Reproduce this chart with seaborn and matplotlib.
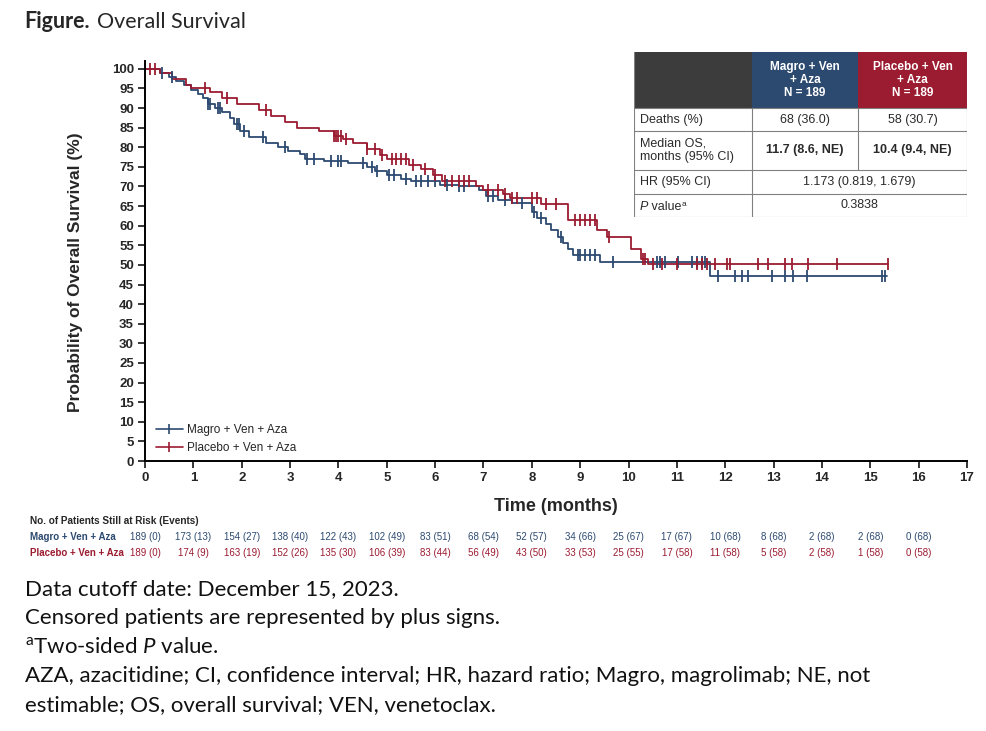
"""
Overall survival KM plot (Magro + Ven + Aza vs Placebo + Ven + Aza)
"""

import numpy as np
import pandas as pd
import matplotlib
matplotlib.use("Agg")
import matplotlib.pyplot as plt
import matplotlib.transforms as mtransforms
from matplotlib.lines import Line2D
from matplotlib.patches import Rectangle
import seaborn as sns

BLUE = "#2c4a70"
RED = "#9b1b30"
HEAD_GRAY = "#3c3c3c"
TXT = "#2a2a2a"

# step points (time in months, survival %)
magro_t = [0, 0.3, 0.5, 0.65, 0.8, 0.95, 1.1, 1.2, 1.3, 1.45, 1.6, 1.75, 1.85,
           1.97, 2.15, 2.5, 2.75, 2.95, 3.2, 3.3, 3.7, 4.2, 4.6, 4.75, 5.0,
           5.3, 5.5, 6.1, 6.5, 6.9, 7.05, 7.3, 7.6, 8.0, 8.1, 8.3, 8.4, 8.55,
           8.65, 8.75, 8.85, 9.4, 11.68, 15.35]
magro_s = [100, 99.0, 98.0, 97.0, 96.0, 94.7, 93.5, 92.5, 91.0, 90.0, 89.0,
           87.5, 86.0, 84.2, 82.5, 81.0, 80.0, 79.0, 78.2, 77.0, 76.5, 76.0,
           75.0, 74.0, 73.0, 72.0, 71.5, 70.5, 70.0, 69.0, 67.5, 66.5, 65.8,
           63.5, 62.0, 60.5, 59.0, 57.0, 55.5, 54.0, 52.5, 50.8, 47.2, 47.2]
magro_cens = [0.35, 0.55, 1.3, 1.35, 1.5, 1.55, 1.9, 1.95, 2.05, 2.45, 2.9,
              3.35, 3.5, 3.85, 4.0, 4.05, 4.5, 4.7, 4.8, 5.05, 5.15, 5.4, 5.6,
              5.7, 5.85, 6.0, 6.25, 6.5, 6.6, 7.1, 7.2, 7.45, 7.8, 8.05, 8.2,
              8.6, 8.95, 9.0, 9.1, 9.2, 9.3, 9.68, 10.59, 10.65, 10.75, 11.02,
              11.31, 11.42, 11.52, 11.58, 11.85, 12.2, 12.35, 12.47, 12.97,
              13.24, 13.4, 13.69, 15.24, 15.3]

placebo_t = [0, 0.3, 0.55, 0.85, 0.95, 1.35, 1.6, 1.9, 2.35, 2.6, 2.9, 3.15,
             3.6, 3.9, 4.1, 4.3, 4.6, 4.85, 5.0, 5.45, 5.7, 5.95, 6.15, 6.85,
             7.0, 7.4, 7.55, 8.2, 8.75, 9.35, 9.55, 10.05, 10.25, 10.4, 15.37]
placebo_s = [100, 99.0, 97.5, 96.0, 95.0, 94.0, 92.5, 91.0, 89.5, 88.0, 86.5,
             85.0, 84.2, 83.0, 82.0, 81.0, 79.5, 78.0, 77.0, 75.5, 74.5, 73.0,
             71.5, 70.0, 69.0, 68.0, 67.0, 65.5, 61.5, 59.0, 57.0, 54.0, 51.5,
             50.2, 50.2]
placebo_cens = [0.1, 0.2, 1.25, 1.7, 2.5, 3.9, 3.95, 4.0, 4.05, 4.15, 4.6,
                4.75, 4.9, 5.1, 5.2, 5.3, 5.4, 5.55, 5.8, 6.0, 6.2, 6.35, 6.5,
                6.6, 6.7, 7.1, 7.3, 7.45, 7.6, 7.7, 8.0, 8.1, 8.3, 8.5, 8.9,
                9.0, 9.1, 9.2, 9.3, 9.6, 10.3, 10.35, 10.5, 10.7, 11.0, 11.42,
                11.52, 11.62, 11.79, 12.04, 12.1, 12.68, 12.88, 13.24, 13.38,
                13.71, 14.31, 15.37]

arm_labels = ["Magro + Ven + Aza", "Placebo + Ven + Aza"]
risk_months = list(range(17))
magro_risk = ["189 (0)", "173 (13)", "154 (27)", "138 (40)", "122 (43)",
              "102 (49)", "83 (51)", "68 (54)", "52 (57)", "34 (66)",
              "25 (67)", "17 (67)", "10 (68)", "8 (68)", "2 (68)", "2 (68)",
              "0 (68)"]
placebo_risk = ["189 (0)", "174 (9)", "163 (19)", "152 (26)", "135 (30)",
                "106 (39)", "83 (44)", "56 (49)", "43 (50)", "33 (53)",
                "25 (55)", "17 (58)", "11 (58)", "5 (58)", "2 (58)",
                "1 (58)", "0 (58)"]

table_rows = ["Deaths (%)", "Median OS,\nmonths (95% CI)", "HR (95% CI)"]
magro_col = ["68 (36.0)", "11.7 (8.6, NE)"]
placebo_col = ["58 (30.7)", "10.4 (9.4, NE)"]
hr_text = "1.173 (0.819, 1.679)"
p_text = "0.3838"

captions = [
    "Data cutoff date: December 15, 2023.",
    "Censored patients are represented by plus signs.",
    r"$^{\rm a}$Two-sided $\it{P}$ value.",
    "AZA, azacitidine; CI, confidence interval; HR, hazard ratio; "
    "Magro, magrolimab; NE, not",
    "estimable; OS, overall survival; VEN, venetoclax.",
]


def censor_y(times, surv, cens):
    idx = np.searchsorted(np.asarray(times), np.asarray(cens), side="right") - 1
    return np.asarray(surv)[idx]


def text_run(ax, x, y, pieces, **common):
    """Draw text pieces one after another on the same baseline (data coords)"""
    renderer = ax.figure.canvas.get_renderer()
    inv = ax.transData.inverted()
    for s, kw in pieces:
        opts = {**common, **kw}
        dy = opts.pop("dy", 0)
        t = ax.text(x, y + dy, s, **opts)
        bb = t.get_window_extent(renderer)
        x = inv.transform((bb.x1, bb.y0))[0]


sns.set_style("ticks")
plt.rcParams["font.family"] = ["Liberation Sans", "DejaVu Sans"]
plt.rcParams["mathtext.fontset"] = "custom"
plt.rcParams["mathtext.rm"] = "Lato"
plt.rcParams["mathtext.it"] = "Lato:italic"

W, H = 987, 731
fig = plt.figure(figsize=(W / 100, H / 100), dpi=100)
fig.patch.set_facecolor("white")

ax = fig.add_axes([145 / W, 1 - 461 / H, (967 - 145) / W, (461 - 61) / H])

curves = [(magro_t, magro_s, magro_cens, BLUE),
          (placebo_t, placebo_s, placebo_cens, RED)]
for t, s, cens, col in curves:
    df = pd.DataFrame({"time": t, "surv": s})
    sns.lineplot(data=df, x="time", y="surv", color=col, lw=1.3,
                 drawstyle="steps-post", estimator=None, sort=False,
                 legend=False, ax=ax)
    cdf = pd.DataFrame({"time": cens, "surv": censor_y(t, s, cens)})
    sns.scatterplot(data=cdf, x="time", y="surv", marker="|", s=70,
                    color=col, linewidth=1.3, legend=False, ax=ax, zorder=3)

ax.set_xlim(0, 17)
ax.set_ylim(0, 102)
ax.set_xticks(range(0, 18))
ax.set_yticks(range(0, 101, 5))
sns.despine(ax=ax)
for sp in ["left", "bottom"]:
    ax.spines[sp].set_linewidth(1.4)
    ax.spines[sp].set_color("black")
ax.tick_params(axis="both", length=5, width=1.3, labelsize=9.5, pad=3)
for lab in ax.get_xticklabels() + ax.get_yticklabels():
    lab.set_fontweight("bold")
ax.set_xlabel("Time (months)", fontsize=13, fontweight="bold", labelpad=10)
ax.set_ylabel("Probability of Overall Survival (%)", fontsize=12.5,
              fontweight="bold")
ax.yaxis.set_label_coords(-0.076, 0.4725)

handles = [Line2D([0], [0], color=BLUE, lw=1.2, marker="|", ms=7, mew=1.2),
           Line2D([0], [0], color=RED, lw=1.2, marker="|", ms=7, mew=1.2)]
ax.legend(handles, arm_labels, loc="lower left", bbox_to_anchor=(0.0, -0.01),
          frameon=False, fontsize=8.5, handlelength=2.3, handletextpad=0.4,
          labelspacing=0.55)

# number at risk
tr = mtransforms.blended_transform_factory(ax.transData, fig.transFigure)
fig.text(30 / W, 1 - 521 / H, "No. of Patients Still at Risk (Events)",
         fontsize=7.2, fontweight="bold", va="center")
for row_y, lab, vals, col in [(537, arm_labels[0], magro_risk, BLUE),
                              (553, arm_labels[1], placebo_risk, RED)]:
    fig.text(30 / W, 1 - row_y / H, lab, fontsize=7, fontweight="bold",
             color=col, va="center")
    for m, v in zip(risk_months, vals):
        ax.text(m, 1 - row_y / H, v, transform=tr, fontsize=7, color=col,
                ha="center", va="center", clip_on=False)

# summary table
tab = fig.add_axes([634 / W, 1 - 217 / H, 333 / W, 165 / H])
tab.set_xlim(0, 333)
tab.set_ylim(165, 0)
tab.axis("off")
rows = [0, 56, 79, 118, 142, 165]
for (x0, x1), fc in zip([(0, 118), (118, 224), (224, 333)],
                        [HEAD_GRAY, BLUE, RED]):
    tab.add_patch(Rectangle((x0, 0), x1 - x0, 56, facecolor=fc,
                            edgecolor="none"))
heads = ["Magro + Ven\n+ Aza\nN = 189", "Placebo + Ven\n+ Aza\nN = 189"]
for x, h in zip([171, 278.5], heads):
    tab.text(x, 28, h, color="white", fontsize=8.5, fontweight="bold",
             ha="center", va="center", linespacing=1.15)
lc = "#808080"
for y in rows[1:]:
    tab.plot([0, 333], [y, y], color=lc, lw=0.8)
tab.plot([0, 0], [0, 165], color=lc, lw=0.8)
tab.plot([333, 333], [0, 165], color=lc, lw=0.8)
tab.plot([118, 118], [56, 165], color=lc, lw=0.8)
tab.plot([224, 224], [56, 118], color=lc, lw=0.8)
for i, lab in enumerate(table_rows):
    tab.text(6, (rows[i + 1] + rows[i + 2]) / 2, lab, fontsize=9,
             va="center", ha="left", color=TXT, linespacing=1.2)
for i in range(2):
    yc = (rows[i + 1] + rows[i + 2]) / 2
    w = "bold" if i == 1 else "normal"
    tab.text(171, yc, magro_col[i], fontsize=9, ha="center", va="center",
             fontweight=w, color=TXT)
    tab.text(278.5, yc, placebo_col[i], fontsize=9, ha="center",
             va="center", fontweight=w, color=TXT)
tab.text(225.5, 130, hr_text, fontsize=9, ha="center", va="center",
         color=TXT)
text_run(tab, 6, 157.5, [("P", {"style": "italic"}), (" value", {}),
                         ("a", {"fontsize": 6, "dy": -4})],
         fontsize=9, color=TXT, va="baseline")
tab.text(225.5, 153.5, p_text, fontsize=9, ha="center", va="center",
         color=TXT)

# title and footnotes
fig.text(24 / W, 1 - 22 / H, "Figure.", fontsize=15.5, fontweight="bold",
         family="Lato", va="center")
fig.text(97 / W, 1 - 22 / H, "Overall Survival", fontsize=15.5,
         family="Lato", va="center")
for i, line in enumerate(captions):
    fig.text(25 / W, 1 - (589 + 29 * i) / H, line, fontsize=16,
             family="Lato", va="center", color="#111111")

fig.savefig("out.png", dpi=100, facecolor="white")
plt.close(fig)
